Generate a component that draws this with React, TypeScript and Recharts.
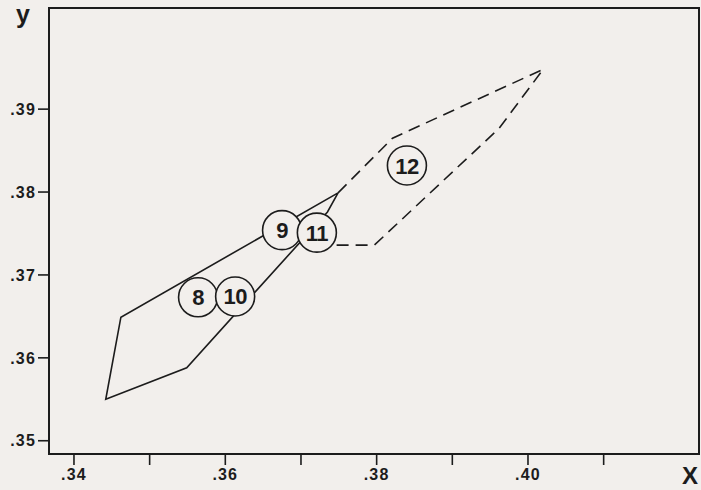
import { ScatterChart, Scatter, XAxis, YAxis, ReferenceArea } from 'recharts'

// solid trajectory (vertices of the loop)
const solidX = [0.3749, 0.3462, 0.3442, 0.3549, 0.3735, 0.3749]
const solidY = [0.3799, 0.3649, 0.355, 0.3588, 0.3776, 0.3799]

// dashed trajectory
const dashedX = [0.3749, 0.3821, 0.402, 0.3962, 0.3797, 0.3736]
const dashedY = [0.3799, 0.3865, 0.3948, 0.3877, 0.3736, 0.3736]

// numbered markers
const markerLabels = ['8', '10', '9', '11', '12']
const markerX = [0.3564, 0.3613, 0.3675, 0.3721, 0.384]
const markerY = [0.3673, 0.3674, 0.3754, 0.3751, 0.3832]

const xTicks = [0.34, 0.35, 0.36, 0.37, 0.38, 0.39, 0.4, 0.41]
const xLabelled = [0.34, 0.36, 0.38, 0.4]
const yTicks = [0.35, 0.36, 0.37, 0.38, 0.39]

const X_DOMAIN: [number, number] = [0.3367, 0.4226]
const Y_DOMAIN: [number, number] = [0.3484, 0.4022]

const INK = '#1c1c1c'
const PAPER = '#f2efec'
const FONT = '"Liberation Sans", Arial, Helvetica, sans-serif'

const toPoints = (xs: number[], ys: number[]) => xs.map((x, i) => ({ x, y: ys[i] }))
const solidData = toPoints(solidX, solidY)
const dashedData = toPoints(dashedX, dashedY)
const markerData = markerX.map((x, i) => ({ x, y: markerY[i], label: markerLabels[i] }))

const fmt = (v: number) => v.toFixed(2).replace(/^0/, '')

const Marker = (props: any) => {
  const { cx, cy, payload } = props
  return (
    <g>
      <circle cx={cx} cy={cy} r={19.5} fill={PAPER} stroke={INK} strokeWidth={1.6} />
      <text
        x={cx}
        y={cy + 8}
        textAnchor="middle"
        fontFamily={FONT}
        fontWeight={700}
        fontSize={22}
        letterSpacing={-0.5}
        fill={INK}
      >
        {payload.label}
      </text>
    </g>
  )
}

const Nothing = () => <g />

const tickStyle = { fill: INK, fontFamily: FONT, fontWeight: 700, fontSize: 16, letterSpacing: 1.2 }

export default function App() {
  return (
    <div style={{ position: 'absolute', left: 0, top: 0, width: 701, height: 490, background: PAPER }}>
      <ScatterChart width={701} height={490} margin={{ top: 8, right: 2, bottom: 0, left: 0 }}>
        <XAxis
          type="number"
          dataKey="x"
          domain={X_DOMAIN}
          allowDataOverflow
          ticks={xTicks}
          interval={0}
          tickFormatter={(v: number) => (xLabelled.some((t) => Math.abs(t - v) < 1e-6) ? fmt(v) : '')}
          axisLine={false}
          tickLine={{ stroke: INK, strokeWidth: 1.6 }}
          tickSize={11}
          tickMargin={4}
          height={36}
          tick={tickStyle}
        />
        <YAxis
          type="number"
          dataKey="y"
          domain={Y_DOMAIN}
          allowDataOverflow
          ticks={yTicks}
          interval={0}
          tickFormatter={fmt}
          axisLine={false}
          tickLine={{ stroke: INK, strokeWidth: 1.6 }}
          tickSize={11}
          tickMargin={2}
          width={49}
          tick={tickStyle}
        />
        <ReferenceArea
          x1={X_DOMAIN[0]}
          x2={X_DOMAIN[1]}
          y1={Y_DOMAIN[0]}
          y2={Y_DOMAIN[1]}
          fill="none"
          stroke={INK}
          strokeWidth={2}
          ifOverflow="visible"
        />
        <Scatter
          data={solidData}
          line={{ stroke: INK, strokeWidth: 1.6 }}
          lineJointType="linear"
          shape={Nothing}
          isAnimationActive={false}
        />
        <Scatter
          data={dashedData}
          line={{ stroke: INK, strokeWidth: 1.6, strokeDasharray: '12 7' }}
          lineJointType="linear"
          shape={Nothing}
          isAnimationActive={false}
        />
        <Scatter data={markerData} shape={Marker} isAnimationActive={false} />
      </ScatterChart>
      <div
        style={{
          position: 'absolute',
          left: 16,
          top: 0,
          fontFamily: FONT,
          fontWeight: 700,
          fontSize: 25,
          lineHeight: 'normal',
          color: INK,
        }}
      >
        y
      </div>
      <div
        style={{
          position: 'absolute',
          left: 682,
          top: 462,
          fontFamily: FONT,
          fontWeight: 700,
          fontSize: 24,
          lineHeight: '28px',
          color: INK,
        }}
      >
        X
      </div>
    </div>
  )
}
